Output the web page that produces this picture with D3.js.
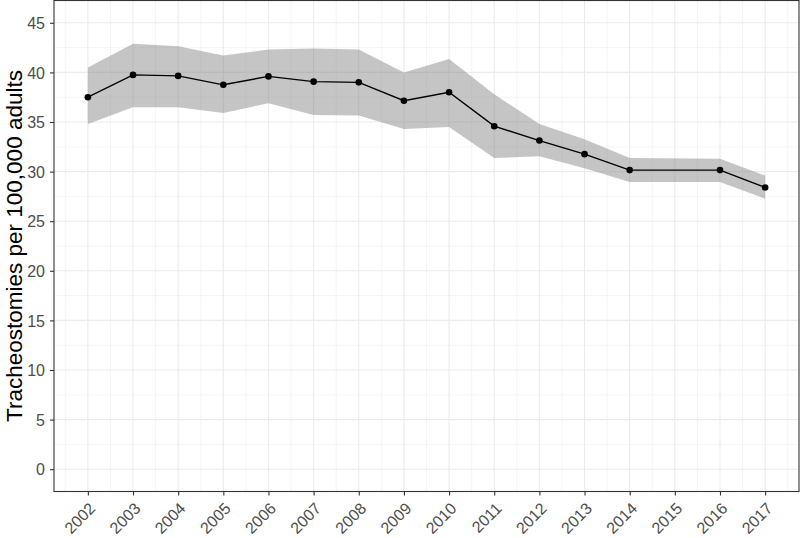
<!DOCTYPE html>
<html><head><meta charset="utf-8">
<script src="https://cdn.jsdelivr.net/npm/d3@7"></script>
<style>body{margin:0;background:#fff}svg{display:block}</style>
</head><body><svg id="c" width="800" height="538"></svg>
<script>
const years = [2002,2003,2004,2005,2006,2007,2008,2009,2010,2011,2012,2013,2014,2016,2017];
const rate  = [37.5,39.75,39.65,38.75,39.6,39.07,39.0,37.15,38.0,34.58,33.13,31.76,30.15,30.15,28.4];
const upper = [40.5,42.9,42.65,41.7,42.3,42.4,42.3,40.0,41.36,37.8,34.8,33.25,31.36,31.3,29.6];
const lower = [34.8,36.5,36.5,35.9,36.9,35.7,35.65,34.3,34.5,31.36,31.56,30.35,28.94,28.94,27.26];
const xTicks = d3.range(2002,2018);
const yTicks = [0,5,10,15,20,25,30,35,40,45];
const yLabel = "Tracheostomies per 100,000 adults";

const data = years.map((y,i)=>({year:y, v:rate[i], hi:upper[i], lo:lower[i]}));
const svg = d3.select("#c");
const L=54, R=799, T=0.5, B=491.5;
const x = d3.scaleLinear().domain([2001.25,2017.75]).range([L,R]);
const y = d3.scaleLinear().domain([-2.25,47.25]).range([B,T]);
const FONT = "Liberation Sans, Arial, sans-serif";

const g = svg.append("g");
g.selectAll(".mx").data(d3.range(2001.5,2018,1)).join("line")
  .attr("x1",d=>x(d)).attr("x2",d=>x(d)).attr("y1",T).attr("y2",B)
  .attr("stroke","#EBEBEB").attr("stroke-width",0.55);
g.selectAll(".my").data(d3.range(-2.5,47.5,5).filter(d=>d>-2.25)).join("line")
  .attr("y1",d=>y(d)).attr("y2",d=>y(d)).attr("x1",L).attr("x2",R)
  .attr("stroke","#EBEBEB").attr("stroke-width",0.55);
g.selectAll(".Mx").data(xTicks).join("line")
  .attr("x1",d=>x(d)).attr("x2",d=>x(d)).attr("y1",T).attr("y2",B)
  .attr("stroke","#EBEBEB").attr("stroke-width",1.1);
g.selectAll(".My").data(yTicks).join("line")
  .attr("y1",d=>y(d)).attr("y2",d=>y(d)).attr("x1",L).attr("x2",R)
  .attr("stroke","#EBEBEB").attr("stroke-width",1.1);

svg.append("path").datum(data)
  .attr("d", d3.area().x(d=>x(d.year)).y0(d=>y(d.lo)).y1(d=>y(d.hi)))
  .attr("fill","#7F7F7F").attr("fill-opacity",0.45);
svg.append("path").datum(data)
  .attr("d", d3.line().x(d=>x(d.year)).y(d=>y(d.v)))
  .attr("fill","none").attr("stroke","#000").attr("stroke-width",1.4);
svg.selectAll(".pt").data(data).join("circle")
  .attr("cx",d=>x(d.year)).attr("cy",d=>y(d.v)).attr("r",3.3).attr("fill","#000");

svg.append("rect").attr("x",L).attr("y",T).attr("width",R-L).attr("height",B-T)
  .attr("fill","none").attr("stroke","#333").attr("stroke-width",1.1);

const xa = svg.append("g").attr("transform",`translate(0,${B})`)
  .call(d3.axisBottom(x).tickValues(xTicks).tickFormat(d3.format("d")).tickSize(4).tickSizeOuter(0));
const ya = svg.append("g").attr("transform",`translate(${L},0)`)
  .call(d3.axisLeft(y).tickValues(yTicks).tickSize(4).tickSizeOuter(0));
[xa,ya].forEach(a=>{a.select(".domain").remove();
  a.selectAll(".tick line").attr("stroke","#333").attr("stroke-width",1.1);
  a.selectAll("text").attr("fill","#4D4D4D").style("font-family",FONT).style("font-size","16px");});
ya.selectAll("text").attr("x",-9).attr("dy","0.36em");
xa.selectAll("text").attr("text-anchor","end").attr("y",0).attr("dy",0)
  .attr("transform","translate(8,18) rotate(-45)");

svg.append("text").attr("transform",`translate(22,${(T+B)/2}) rotate(-90)`)
  .attr("text-anchor","middle").attr("fill","#000")
  .style("font-family",FONT).style("font-size","22.5px")
  .text(yLabel);
</script></body></html>
